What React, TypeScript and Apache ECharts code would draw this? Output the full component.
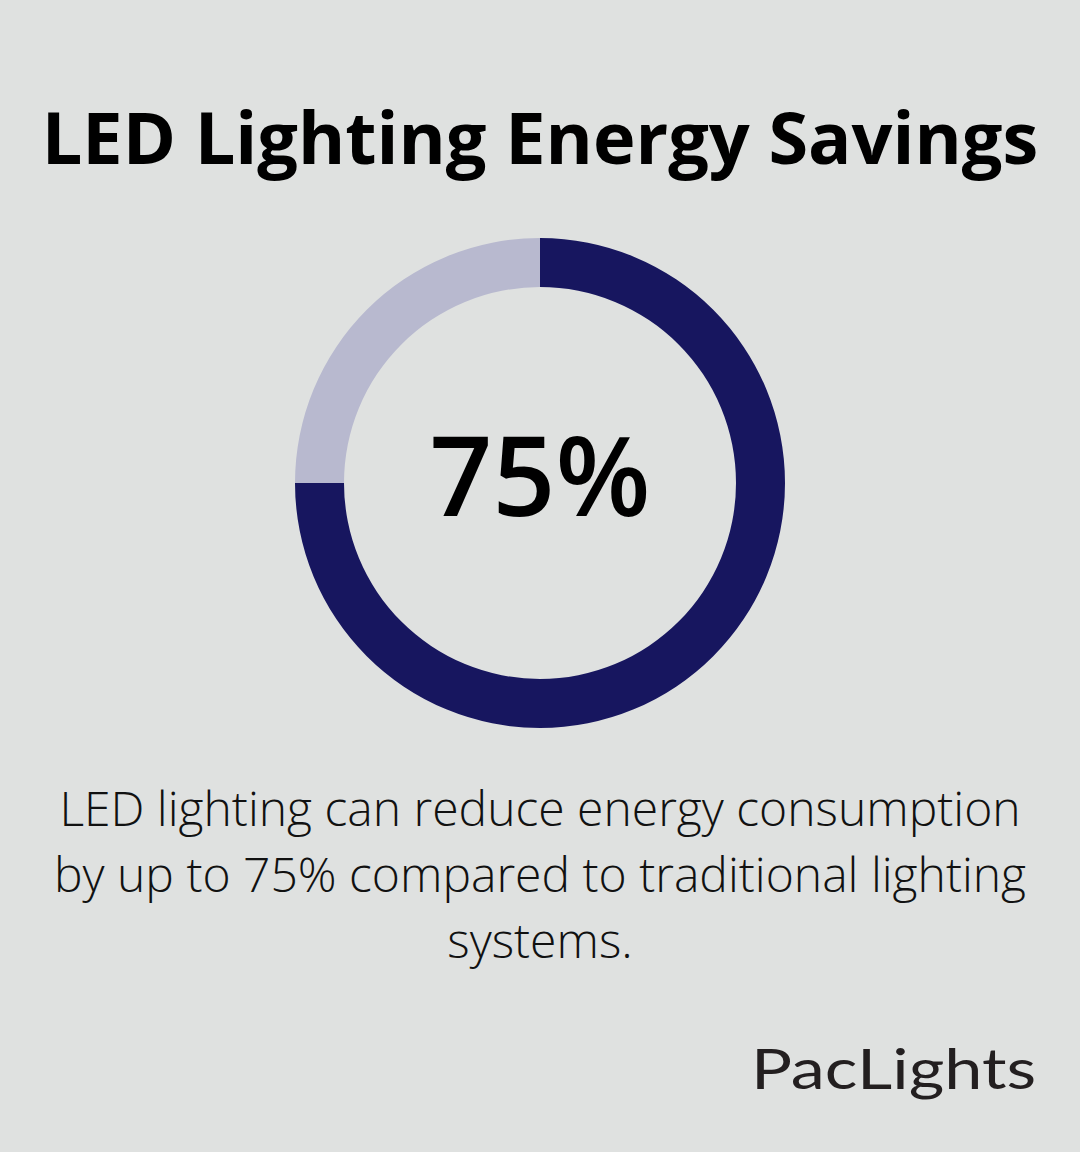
import React, { useEffect, useRef } from "react";
import * as echarts from "echarts";

const categories = ["Energy saved", "Remaining"];
const values = [75, 25];
const centerLabel = "75%";
const titleText = "LED Lighting Energy Savings";
const bodyLines = [
  "LED lighting can reduce energy consumption",
  "by up to 75% compared to traditional lighting",
  "systems.",
];
const brand = "PacLights";

export default function App() {
  const ref = useRef<HTMLDivElement>(null);
  useEffect(() => {
    document.body.style.margin = "0";
    const chart = echarts.init(ref.current!, null, { renderer: "svg" });
    chart.setOption({
      animation: false,
      backgroundColor: "#dfe1e0",
      series: [
        {
          type: "pie",
          center: [540, 483],
          radius: [196, 245],
          startAngle: 90,
          clockwise: true,
          silent: true,
          label: { show: false },
          labelLine: { show: false },
          data: categories.map((name, i) => ({
            name,
            value: values[i],
            itemStyle: { color: i === 0 ? "#17165f" : "#b8b9cf" },
          })),
        },
      ],
      graphic: [
        {
          type: "text",
          left: "center",
          top: 100,
          style: {
            text: titleText,
            font: "bold 72px 'Open Sans'",
            fill: "#000000",
          },
        },
        {
          type: "text",
          x: 540,
          y: 473,
          style: {
            text: centerLabel,
            font: "600 110px 'Open Sans'",
            fill: "#000000",
            textAlign: "center",
            textVerticalAlign: "middle",
          },
        },
        {
          type: "text",
          x: 540,
          y: 774,
          style: {
            text: bodyLines.join("\n"),
            font: "300 48px 'Open Sans'",
            lineHeight: 66,
            fill: "#111111",
            textAlign: "center",
          },
        },
        {
          type: "text",
          x: 1036,
          y: 1067,
          scaleX: 1.2,
          style: {
            text: brand,
            font: "400 57px 'Lato'",
            fill: "#231f20",
            textAlign: "right",
            textVerticalAlign: "middle",
          },
        },
      ],
    });
    return () => chart.dispose();
  }, []);
  return <div ref={ref} style={{ width: 1080, height: 1152 }} />;
}
